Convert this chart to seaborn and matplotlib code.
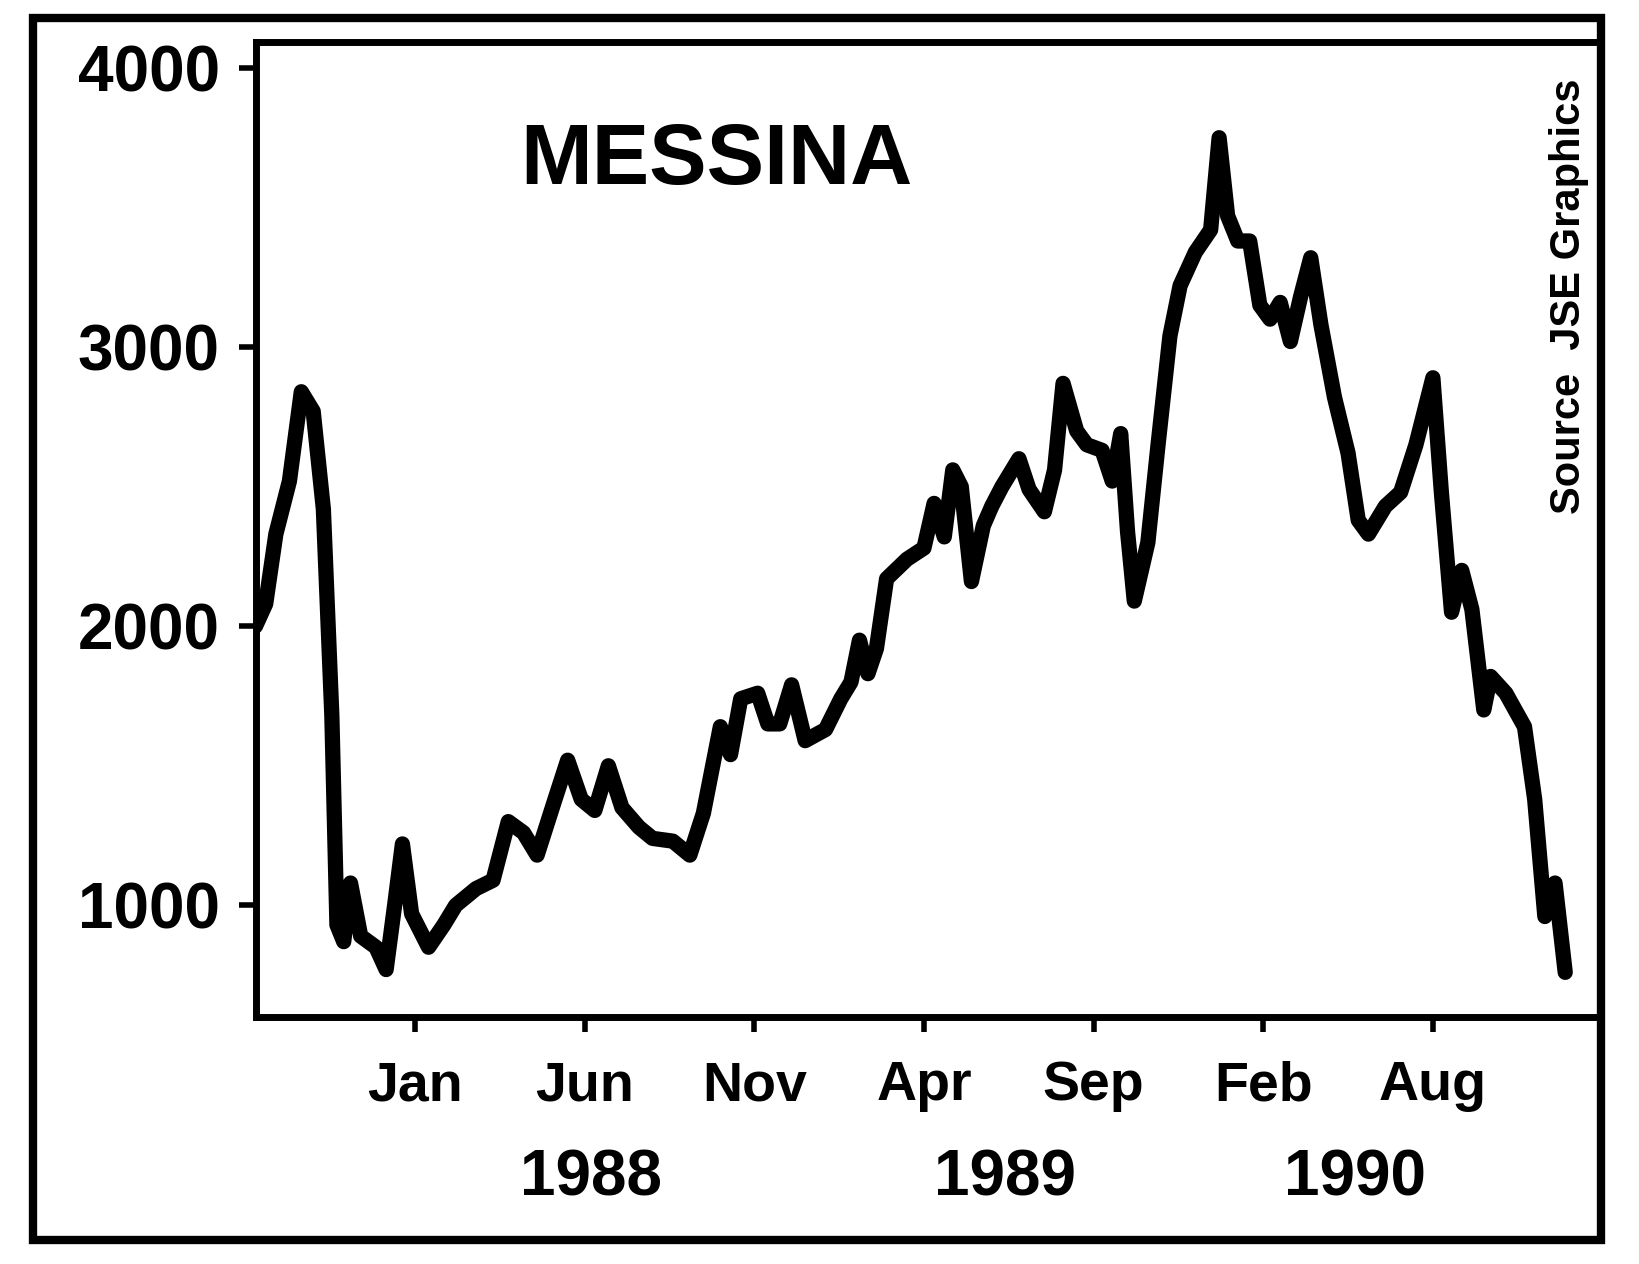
import pandas as pd
import seaborn as sns
import matplotlib.pyplot as plt
from matplotlib.patches import Rectangle
from matplotlib.transforms import blended_transform_factory

# months counted from Jan 1988 (0 = Jan 1988)
month = [-4.7, -4.4, -4.1, -3.7, -3.35, -3.0, -2.7, -2.45, -2.3, -2.1,
         -1.9, -1.6, -1.15, -0.85, -0.6, -0.37, -0.1, 0.4, 0.85, 1.2,
         1.8, 2.3, 2.75, 3.2, 3.6, 4.1, 4.5, 4.9, 5.3, 5.7,
         6.1, 6.6, 7.0, 7.6, 8.1, 8.5, 9.0, 9.3, 9.6, 10.1,
         10.4, 10.75, 11.1, 11.5, 12.1, 12.55, 12.85, 13.1, 13.35, 13.6,
         13.9, 14.5, 15.0, 15.3, 15.6, 15.85, 16.1, 16.4, 16.75, 17.0,
         17.3, 17.8, 18.1, 18.55, 18.85, 19.1, 19.5, 19.8, 20.25, 20.55,
         20.8, 21.0, 21.2, 21.6, 21.9, 22.25, 22.55, 23.0, 23.45, 23.7,
         23.95, 24.25, 24.6, 24.9, 25.2, 25.5, 25.8, 26.1, 26.4, 26.7,
         27.1, 27.5, 27.8, 28.1, 28.6, 29.05, 29.5, 30.0, 30.25, 30.55,
         30.85, 31.15, 31.5, 31.7, 32.15, 32.7, 33.0, 33.3, 33.6, 33.9]
price = [2000, 2080, 2330, 2520, 2840, 2770, 2420, 1680, 930, 870,
         1080, 890, 850, 770, 1000, 1220, 970, 850, 930, 1000,
         1060, 1090, 1300, 1260, 1180, 1370, 1520, 1380, 1340, 1500,
         1350, 1280, 1240, 1230, 1180, 1330, 1640, 1540, 1740, 1760,
         1650, 1650, 1790, 1590, 1630, 1740, 1800, 1950, 1830, 1920,
         2170, 2240, 2280, 2440, 2320, 2560, 2500, 2160, 2360, 2430,
         2500, 2600, 2490, 2410, 2560, 2870, 2700, 2650, 2630, 2520,
         2690, 2340, 2090, 2300, 2650, 3040, 3220, 3340, 3420, 3750,
         3470, 3380, 3380, 3150, 3100, 3160, 3020, 3180, 3320, 3080,
         2820, 2620, 2380, 2330, 2430, 2480, 2650, 2890, 2480, 2050,
         2200, 2060, 1700, 1820, 1760, 1640, 1380, 960, 1080, 760]

tick_pos = [0, 5, 10, 15, 20, 25, 30]
tick_labels = ["Jan", "Jun", "Nov", "Apr", "Sep", "Feb", "Aug"]
year_pos = [5.2, 17.4, 27.7]
year_labels = ["1988", "1989", "1990"]
y_ticks = [1000, 2000, 3000, 4000]

df = pd.DataFrame({"month": month, "price": price})

sns.set_theme(style="white")
plt.rcParams['font.family'] = ['Liberation Sans', 'DejaVu Sans']
plt.rcParams['text.color'] = 'black'
plt.rcParams['xtick.color'] = 'black'
plt.rcParams['ytick.color'] = 'black'

fig = plt.figure(figsize=(16.4, 12.64), dpi=100)
ax = fig.add_axes([0.156, 0.1954, 0.8195, 0.7714])

sns.lineplot(data=df, x="month", y="price", color="black", linewidth=11,
             estimator=None, ax=ax)

ax.set_xlim(-4.69, 34.92)
ax.set_ylim(600, 4093)
ax.set_xlabel("")
ax.set_ylabel("")

ax.set_xticks(tick_pos)
ax.set_xticklabels(tick_labels, fontsize=40, fontweight="bold")
ax.set_yticks(y_ticks)
ax.set_yticklabels([str(v) for v in y_ticks], fontsize=46, fontweight="bold")
ax.tick_params(axis="x", direction="out", length=11, width=4, pad=20,
               color="black", labelcolor="black", bottom=True)
ax.tick_params(axis="y", direction="out", length=12, width=4, pad=14,
               color="black", labelcolor="black", left=True)

for s in ax.spines.values():
    s.set_visible(True)
    s.set_color("black")
    s.set_linewidth(5)

trans = blended_transform_factory(ax.transData, ax.transAxes)
for x, lab in zip(year_pos, year_labels):
    ax.text(x, -0.166, lab, transform=trans, ha="center", va="center",
            fontsize=46, fontweight="bold", color="black")

fig.text(0.437, 0.872, "MESSINA", ha="center", va="center", fontsize=62,
         fontweight="bold", color="black")
fig.text(0.957, 0.766, "Source  JSE Graphics", rotation=90, ha="center",
         va="center", fontsize=30, fontweight="bold", color="black")

# outer frame
fig.patches.append(Rectangle((0.020, 0.019), 0.956, 0.967, transform=fig.transFigure,
                             fill=False, lw=6, ec="black"))

fig.savefig("out.png", dpi=100)
